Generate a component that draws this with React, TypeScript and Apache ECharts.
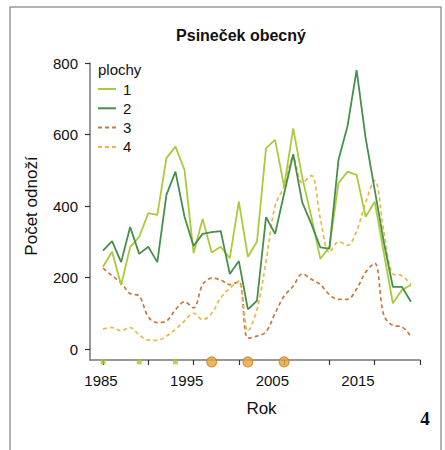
import React, { useEffect, useRef } from "react";
import * as echarts from "echarts";

const years = [
  1985, 1986, 1987, 1988, 1989, 1990, 1991, 1992, 1993, 1994, 1995, 1996,
  1997, 1998, 1999, 2000, 2001, 2002, 2003, 2004, 2005, 2006, 2007, 2008,
  2009, 2010, 2011, 2012, 2013, 2014, 2015, 2016, 2017, 2018, 2019,
];
const plocha1 = [
  230, 272, 179, 285, 314, 380, 375, 534, 566, 501, 268, 364, 270, 286, 254,
  412, 258, 300, 562, 585, 454, 617, 480, 370, 252, 286, 464, 496, 487, 370,
  412, 270, 128, 165, 179,
];
const plocha2 = [
  275, 302, 243, 341, 266, 286, 243, 431, 496, 370, 288, 322, 327, 330, 210,
  246, 111, 135, 369, 322, 435, 545, 410, 350, 284, 281, 529, 624, 780, 590,
  445, 300, 174, 174, 132,
];
const plocha3 = [
  226, 205, 185, 155, 148, 90, 74, 78, 110, 132, 115, 180, 198, 193, 180, 188,
  30, 36, 48, 100, 148, 176, 210, 195, 180, 152, 139, 139, 168, 215, 240, 95,
  66, 62, 35,
];
const plocha4 = [
  56, 60, 51, 60, 39, 25, 24, 36, 55, 78, 100, 82, 100, 143, 170, 190, 50, 110,
  245, 400, 455, 535, 465, 485, 365, 270, 300, 290, 330, 410, 472, 330, 210,
  205, 180,
];
const seriesNames = ["1", "2", "3", "4"];
const xLabelValues = [1985, 1995, 2005, 2015];
const greenMarkYears = [1985, 1989, 1993];
const orangeMarkYears = [1997, 2001, 2005];
const markLevel = -36;

const colors = ["#aacb3a", "#468f4c", "#c9793e", "#e7b84b"];

export default function App() {
  const ref = useRef<HTMLDivElement>(null);
  useEffect(() => {
    if (!ref.current) return;
    const chart = echarts.init(ref.current, null, { renderer: "svg" });
    const font = "'Liberation Sans', Arial, Helvetica, sans-serif";
    const pairs = (vals: number[]) => years.map((y, i) => [y, vals[i]]);
    const allSeries = [plocha1, plocha2, plocha3, plocha4];

    const legendTop = 89;
    const legendStep = 19.3;
    const legendGraphics: any[] = [
      {
        type: "text",
        x: 98,
        y: 69,
        style: {
          text: "plochy",
          font: `15px ${font}`,
          fill: "#111",
          textVerticalAlign: "middle",
        },
      },
    ];
    seriesNames.forEach((n, i) => {
      const yy = legendTop + i * legendStep;
      legendGraphics.push({
        type: "line",
        shape: { x1: 98, y1: yy, x2: 116, y2: yy },
        style: {
          stroke: colors[i],
          lineWidth: 2,
          lineDash: i >= 2 ? [4, 3] : null,
        },
      });
      legendGraphics.push({
        type: "text",
        x: 123,
        y: yy,
        style: {
          text: n,
          font: `15px ${font}`,
          fill: "#111",
          textVerticalAlign: "middle",
        },
      });
    });

    const tickStyle = {
      show: true,
      inside: false,
      length: 5,
      lineStyle: { color: "#333", width: 1.2 },
    };
    const hiddenLine = { show: false, onZero: false };
    const frameLine = { show: true, onZero: false, lineStyle: { color: "#777", width: 1.5 } };

    chart.setOption({
      animation: false,
      textStyle: { fontFamily: font },
      title: {
        text: "Psineček obecný",
        left: 236,
        top: 22,
        textAlign: "center",
        textStyle: { fontSize: 16, fontWeight: "bold", color: "#111", fontFamily: font },
      },
      grid: [
        // data grid: 1985..2020 x 0..800
        { left: 103, top: 63, width: 317, height: 286, outerBoundsMode: "none" },
        // frame grid for the L-shaped axis lines
        { left: 90, top: 63, width: 330, height: 297, outerBoundsMode: "none" },
      ],
      xAxis: [
        {
          gridIndex: 0,
          type: "value",
          position: "bottom",
          min: 1985,
          max: 2020,
          interval: 5,
          offset: 11,
          name: "Rok",
          nameLocation: "middle",
          nameGap: 40,
          nameTextStyle: { fontSize: 17, color: "#111", fontFamily: font },
          axisLine: hiddenLine,
          axisTick: tickStyle,
          axisLabel: { show: false },
          splitLine: { show: false },
        },
        {
          gridIndex: 1,
          type: "value",
          position: "bottom",
          min: 0,
          max: 1,
          axisLine: frameLine,
          axisTick: { show: false },
          axisLabel: { show: false },
          splitLine: { show: false },
        },
        {
          gridIndex: 1,
          type: "value",
          position: "bottom",
          min: 1983.716,
          max: 2022.237,
          axisLine: hiddenLine,
          axisTick: { show: false },
          axisLabel: {
            customValues: xLabelValues,
            formatter: (v: number) => String(Math.round(v)),
            margin: 13,
            fontSize: 15,
            color: "#111",
            fontFamily: font,
          },
          splitLine: { show: false },
        },
      ],
      yAxis: [
        {
          gridIndex: 0,
          type: "value",
          position: "left",
          min: 0,
          max: 800,
          interval: 200,
          offset: 13,
          name: "Počet odnoží",
          nameLocation: "middle",
          nameGap: 50,
          nameRotate: 90,
          nameTextStyle: { fontSize: 17, color: "#111", fontFamily: font },
          axisLine: hiddenLine,
          axisTick: tickStyle,
          axisLabel: {
            margin: 12,
            fontSize: 15,
            color: "#111",
            fontFamily: font,
          },
          splitLine: { show: false },
        },
        {
          gridIndex: 1,
          type: "value",
          position: "left",
          min: 0,
          max: 1,
          axisLine: frameLine,
          axisTick: { show: false },
          axisLabel: { show: false },
          splitLine: { show: false },
        },
      ],
      series: [
        ...allSeries.map((vals, i) => ({
          name: seriesNames[i],
          type: "line",
          xAxisIndex: 0,
          yAxisIndex: 0,
          data: pairs(vals),
          showSymbol: false,
          symbol: "none",
          smooth: i >= 2 ? 0.35 : false,
          clip: false,
          z: i >= 2 ? 2 : 3,
          lineStyle: {
            color: colors[i],
            width: i >= 2 ? 1.7 : 1.8,
            type: i >= 2 ? [4, 3] : "solid",
          },
        })),
        {
          type: "scatter",
          xAxisIndex: 0,
          yAxisIndex: 0,
          data: greenMarkYears.map((y) => [y, markLevel]),
          symbol: "rect",
          symbolSize: 5,
          clip: false,
          z: 4,
          itemStyle: { color: "#a8c83a" },
        },
        {
          type: "scatter",
          xAxisIndex: 0,
          yAxisIndex: 0,
          data: orangeMarkYears.map((y) => [y, markLevel]),
          symbol: "circle",
          symbolSize: 10,
          clip: false,
          z: 4,
          itemStyle: { color: "#e2a63c", borderColor: "#c98530", borderWidth: 1.2 },
        },
      ],
      graphic: [
        {
          type: "rect",
          shape: { x: 10, y: 7, width: 431, height: 470 },
          style: { fill: "none", stroke: "#9a9a9a", lineWidth: 1.5 },
          silent: true,
        },
        ...legendGraphics,
        {
          type: "text",
          x: 425,
          y: 418,
          style: {
            text: "4",
            font: `bold 19px 'Liberation Serif', 'DejaVu Serif', serif`,
            fill: "#111",
            textAlign: "center",
            textVerticalAlign: "middle",
          },
        },
      ],
    });
    return () => chart.dispose();
  }, []);
  return (
    <div
      ref={ref}
      style={{ position: "absolute", left: 0, top: 0, width: 445, height: 450 }}
    />
  );
}
